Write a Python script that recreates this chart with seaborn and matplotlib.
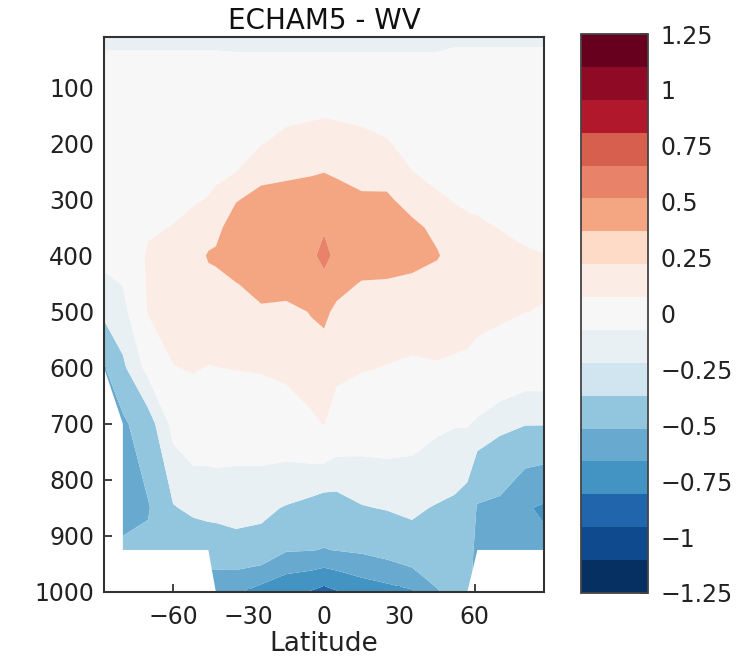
import numpy as np
import matplotlib
matplotlib.use("Agg")
import matplotlib.pyplot as plt
import seaborn as sns
from matplotlib.colors import ListedColormap, BoundaryNorm
from matplotlib.cm import ScalarMappable

nan = np.nan

# ---------------- data ----------------
lats = [-87.5, -80, -70, -60, -52, -46, -43, -35, -25, -15, -5, 0, 5,
        15, 25, 35, 45, 52, 57, 61, 70, 80, 87.5]
pressure = [10, 30, 50, 70, 100, 150, 200, 250, 300, 350, 400, 450, 500,
            600, 700, 850, 925, 1000]

p10 = [-0.15] * 20 + [-0.14, -0.14, -0.14]
p30 = [-0.11, -0.11, -0.11, -0.11, -0.11, -0.11, -0.11, -0.12, -0.12, -0.12, -0.12, -0.12,
       -0.12, -0.12, -0.12, -0.12, -0.12, -0.095, -0.095, -0.095, -0.095, -0.095, -0.095]
p50 = [-0.06] * 17 + [-0.05] * 6
p70 = [-0.03] * 23
p100 = [0.0, 0.0, 0.0, 0.01, 0.01, 0.01, 0.01, 0.02, 0.02, 0.03, 0.03, 0.03,
        0.03, 0.03, 0.02, 0.02, 0.01, 0.01, 0.01, 0.01, 0.0, 0.0, 0.0]
p150 = [0.02, 0.02, 0.03, 0.03, 0.04, 0.04, 0.045, 0.05, 0.05, 0.08, 0.09, 0.095,
        0.09, 0.08, 0.06, 0.04, 0.03, 0.03, 0.03, 0.03, 0.02, 0.02, 0.02]
p200 = [0.03, 0.03, 0.04, 0.04, 0.05, 0.05, 0.06, 0.07, 0.095, 0.13, 0.14, 0.15,
        0.145, 0.13, 0.11, 0.06, 0.05, 0.04, 0.04, 0.04, 0.03, 0.03, 0.03]
p250 = [0.04, 0.04, 0.05, 0.05, 0.06, 0.07, 0.08, 0.098, 0.2, 0.21, 0.23, 0.245,
        0.22, 0.18, 0.2, 0.102, 0.07, 0.06, 0.05, 0.05, 0.04, 0.04, 0.03]
p300 = [0.04, 0.04, 0.06, 0.07, 0.09, 0.105, 0.12, 0.24, 0.3, 0.33, 0.35, 0.37,
        0.34, 0.28, 0.27, 0.2, 0.115, 0.095, 0.085, 0.08, 0.07, 0.06, 0.05]
p350 = [0.02, 0.02, 0.08, 0.105, 0.13, 0.2, 0.21, 0.33, 0.38, 0.4, 0.44, 0.48,
        0.42, 0.35, 0.31, 0.28, 0.22, 0.13, 0.12, 0.115, 0.097, 0.08, 0.07]
p400 = [-0.06, -0.04, 0.12, 0.16, 0.2, 0.26, 0.27, 0.36, 0.38, 0.42, 0.46, 0.56,
        0.45, 0.33, 0.3, 0.3, 0.26, 0.2, 0.18, 0.17, 0.13, 0.11, 0.102]
p450 = [-0.13, -0.095, 0.12, 0.17, 0.2, 0.22, 0.22, 0.245, 0.3, 0.33, 0.38, 0.44,
        0.3, 0.24, 0.24, 0.22, 0.2, 0.19, 0.18, 0.17, 0.14, 0.125, 0.11]
p500 = [-0.2, -0.15, 0.11, 0.17, 0.18, 0.19, 0.2, 0.19, 0.23, 0.2, 0.26, 0.28,
        0.22, 0.2, 0.19, 0.17, 0.17, 0.16, 0.15, 0.14, 0.115, 0.102, 0.095]
p600 = [-0.52, -0.28, -0.05, 0.095, 0.11, 0.095, 0.098, 0.105, 0.11, 0.13, 0.16, 0.18,
        0.13, 0.11, 0.095, 0.08, 0.09, 0.08, 0.075, 0.05, 0.05, 0.0, 0.0]
p700 = [nan, -0.55, -0.33, -0.05, 0.02, 0.0, 0.01, 0.0, 0.02, 0.03, 0.08, 0.105,
        0.04, 0.0, 0.0, -0.02, -0.07, -0.09, -0.09, -0.12, -0.2, -0.24, -0.24]
p850 = [nan, -0.6, -0.52, -0.26, -0.22, -0.2, -0.2, -0.2, -0.22, -0.26, -0.3, -0.33,
        -0.32, -0.26, -0.24, -0.23, -0.26, -0.28, -0.32, -0.52, -0.55, -0.73, -0.78]
p925 = [nan, -0.45, -0.45, -0.4, -0.35, -0.35, -0.34, -0.3, -0.3, -0.48, -0.49, -0.51,
        -0.49, -0.46, -0.4, -0.3, -0.4, -0.38, -0.42, -0.55, -0.6, -0.65, -0.7]
p1000 = [nan, nan, nan, nan, nan, nan, -0.68, -0.72, -0.85, -0.95, -1.02, -1.08,
         -1.02, -0.9, -0.84, -0.78, -0.51, -0.45, -0.45, nan, nan, nan, nan]

cbar_ticks = [-1.25, -1.0, -0.75, -0.5, -0.25, 0.0, 0.25, 0.5, 0.75, 1.0, 1.25]
cbar_ticklabels = ["\u22121.25", "\u22121", "\u22120.75", "\u22120.5", "\u22120.25", "0",
                   "0.25", "0.5", "0.75", "1", "1.25"]
xticks = [-60, -30, 0, 30, 60]
yticks = [100, 200, 300, 400, 500, 600, 700, 800, 900, 1000]

# ---------------- styling ----------------
sns.set_style("ticks")
plt.rcParams["font.family"] = ["DejaVu Sans"]

field = np.array([p10, p30, p50, p70, p100, p150, p200, p250, p300, p350, p400,
                  p450, p500, p600, p700, p850, p925, p1000])

# 17-step diverging palette (low -> high), as seen on the colour bar
colors17 = sns.color_palette([
    "#053061", "#0f4a8e", "#2166ac", "#4393c3", "#67a9cf", "#92c5de", "#d1e5f0",
    "#e9f0f4", "#f7f7f7", "#fbece5", "#fddbc7", "#f4a582", "#e8836a", "#d6604d",
    "#b2182b", "#8f0b25", "#67001f"])
cb_bounds = np.linspace(-1.25, 1.25, 18)

fill_levels = [-1.25, -1.0, -0.75, -0.5, -0.25, -0.1, 0.1, 0.25, 0.5, 0.75, 1.0, 1.25]
fill_idx = [2, 3, 4, 5, 7, 8, 9, 11, 12, 13, 14]
fill_colors = [colors17[i] for i in fill_idx]

fig = plt.figure(figsize=(7.46, 6.6), dpi=100)
ax = fig.add_axes([104 / 746, 1 - 592 / 660, 440 / 746, 555 / 660])
cax = fig.add_axes([581 / 746, 1 - 593 / 660, 67 / 746, 559 / 660])

ax.set_facecolor("white")
ax.contourf(lats, pressure, field, levels=fill_levels, colors=fill_colors,
            corner_mask=True, antialiased=True)
ax.set_xlim(-87.5, 87.5)
ax.set_ylim(1000, 10)
ax.set_xticks(xticks)
ax.set_xticklabels([str(v).replace("-", "\u2212") for v in xticks])
ax.set_yticks(yticks)
ax.tick_params(direction="in", top=True, right=True, length=6, width=1.3,
               color="#333333", labelsize=17, labelcolor="#222222")
ax.tick_params(axis="x", pad=9)
ax.tick_params(axis="y", pad=7)
for s in ax.spines.values():
    s.set_color("#333333")
    s.set_linewidth(1.5)
ax.set_xlabel("Latitude", fontsize=19, color="#222222", labelpad=2)
ax.set_title("ECHAM5 - WV", fontsize=20, color="#111111", pad=6)

sm = ScalarMappable(norm=BoundaryNorm(cb_bounds, 17), cmap=ListedColormap(colors17))
cb = fig.colorbar(sm, cax=cax, ticks=cbar_ticks)
cb.set_ticklabels(cbar_ticklabels)
cb.minorticks_off()
cb.outline.set_edgecolor("#444444")
cb.outline.set_linewidth(1.3)
cax.tick_params(which="both", direction="in", length=6, width=1.3, color="#333333",
                labelsize=17, labelcolor="#222222", pad=9)
cax.tick_params(which="minor", length=0)

fig.savefig("out.png", dpi=100)
